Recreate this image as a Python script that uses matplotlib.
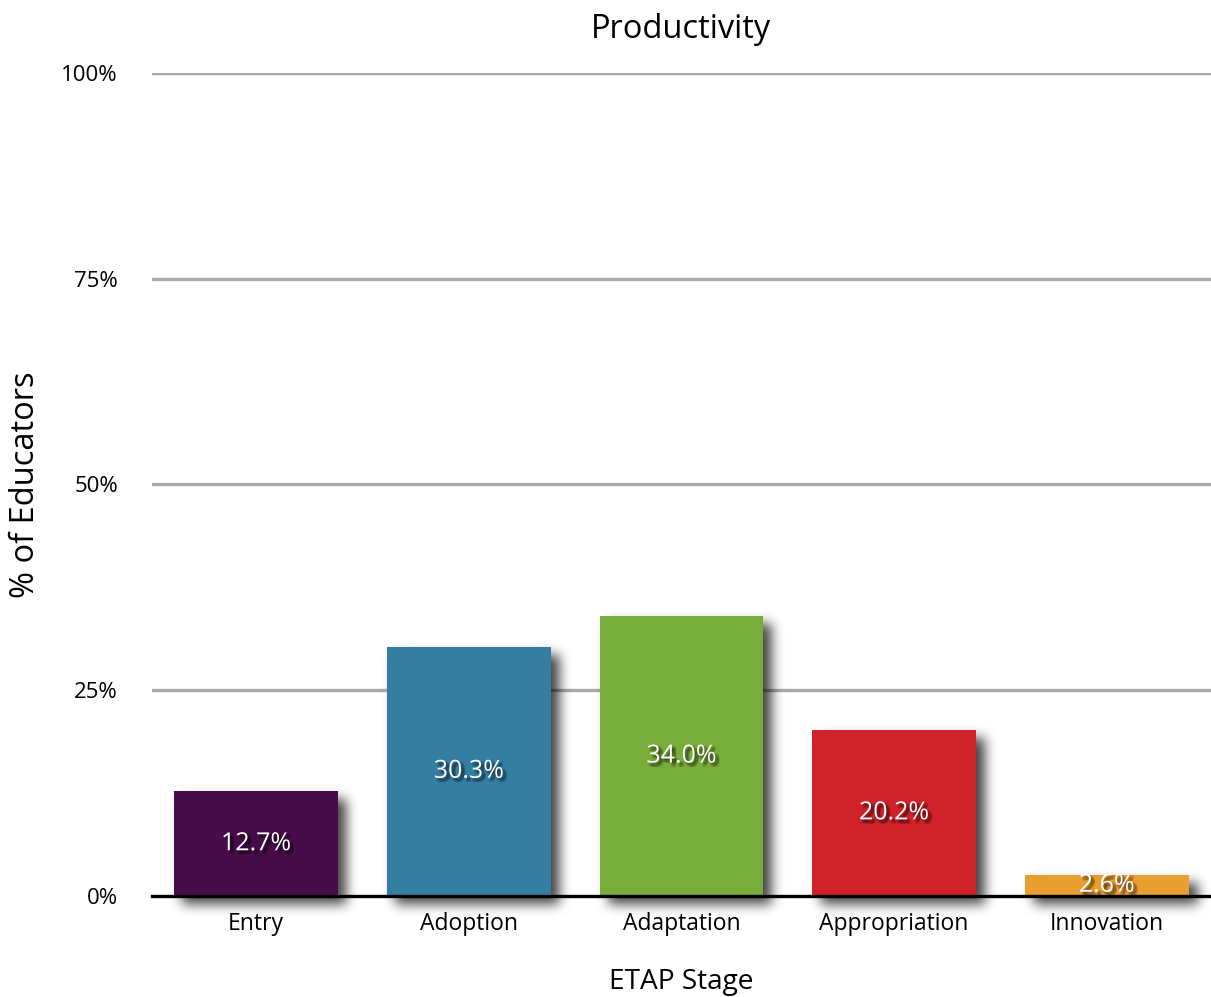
import matplotlib
matplotlib.use("Agg")
import numpy as np
import matplotlib.pyplot as plt
import matplotlib.patheffects as pe

categories = ["Entry", "Adoption", "Adaptation", "Appropriation", "Innovation"]
values = [12.7, 30.3, 34.0, 20.2, 2.6]
colors = ["#460D48", "#347EA2", "#78AC3B", "#D0222B", "#E99E30"]
yticks = [0, 25, 50, 75, 100]
ytick_labels = ["0%", "25%", "50%", "75%", "100%"]

plt.rcParams['font.family'] = ['Open Sans', 'DejaVu Sans']

fig = plt.figure(figsize=(12.11, 9.97), dpi=100)
ax = fig.add_axes([0.1255, 0.1013, 0.8745, 0.8255])

x = np.arange(len(categories))
width = 0.77
xmin, xmax = -0.49, 4.49
ymin, ymax = 0, 100
ax.set_xlim(xmin, xmax)
ax.set_ylim(ymin, ymax)

# ---- soft drop shadow: rasterise the bars, shift, blur, and draw as image ----
fig.canvas.draw()
bbox = ax.get_window_extent()
px_per_x = bbox.width / (xmax - xmin)
px_per_y = bbox.height / (ymax - ymin)
ext_lo = -45 / px_per_y          # let shadow spill below the baseline
ext_hi = ymax
W = int(round(bbox.width))
H = int(round((ext_hi - ext_lo) * px_per_y))
xs = xmin + (np.arange(W) + 0.5) / px_per_x
ys = ext_lo + (np.arange(H) + 0.5) / px_per_y
shift_px = 8
xs_s = xs - shift_px / px_per_x
ys_s = ys + shift_px / px_per_y
mask = np.zeros((H, W))
for xi, v in zip(x, values):
    inx = np.abs(xs_s - xi) <= width / 2
    iny = (ys_s >= 0) & (ys_s <= v)
    mask[np.ix_(iny, inx)] = 1.0
sigma = 6.0
r = int(3 * sigma)
k = np.exp(-0.5 * (np.arange(-r, r + 1) / sigma) ** 2)
k /= k.sum()
blur = np.apply_along_axis(lambda m: np.convolve(m, k, mode="same"), 1, mask)
blur = np.apply_along_axis(lambda m: np.convolve(m, k, mode="same"), 0, blur)
rgba = np.zeros((H, W, 4))
rgba[..., 3] = blur * 0.75
ax.imshow(rgba, extent=(xmin, xmax, ext_lo, ext_hi), origin="lower",
          aspect="auto", zorder=2, clip_on=False, interpolation="bilinear")
ax.set_xlim(xmin, xmax)
ax.set_ylim(ymin, ymax)

# gridlines
for t in yticks[1:]:
    ax.axhline(t, color="#AAAAAA", linewidth=2.4, zorder=1)

ax.bar(x, values, width, color=colors, zorder=3)
ax.axhline(0, color="black", linewidth=2.4, zorder=4, clip_on=False)

text_shadow = [pe.SimplePatchShadow(offset=(dx, dy), shadow_rgbFace="black", alpha=0.1)
               for dx, dy in [(1, -1), (2, -2), (3, -2), (2, -3), (1, -2), (3, -3),
                              (2, -1), (1, -3), (3, -1)]]
for xi, v in zip(x, values):
    ax.text(xi, v / 2, f"{v:.1f}%", ha="center", va="center", color="white",
            fontsize=18, zorder=5, path_effects=text_shadow + [pe.Normal()])

ax.set_xticks(x)
ax.set_xticklabels(categories, fontsize=16.5)
ax.set_yticks(yticks)
ax.set_yticklabels(ytick_labels, fontsize=16)
ax.tick_params(axis="both", length=0)
ax.tick_params(axis="y", pad=24.5)
ax.tick_params(axis="x", pad=11.5)
for s in ax.spines.values():
    s.set_visible(False)

ax.set_title("Productivity", fontsize=23.5, pad=25)
ax.set_xlabel("ETAP Stage", fontsize=20.2, labelpad=23)
ax.set_ylabel("% of Educators", fontsize=23.5)
ax.yaxis.set_label_coords(-0.104, 0.5)

fig.savefig("out.png", dpi=100)
